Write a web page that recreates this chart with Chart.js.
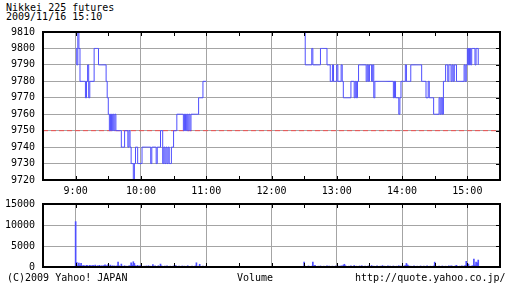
<!DOCTYPE html>
<html lang="en">
<head>
  <meta charset="UTF-8">
  <title>Nikkei 225 futures</title>
  <script src="https://cdn.jsdelivr.net/npm/chart.js"></script>
  <style>
    body {
      margin: 0;
      background: #fff;
      font-family: 'DejaVu Sans Mono', monospace;
      font-size: 10px;
      color: #000;
    }
    #wrap {
      position: relative;
      width: 512px;
      height: 288px;
      overflow: hidden;
    }
    canvas {
      position: absolute;
      left: 0;
    }
    .txt {
      position: absolute;
      white-space: pre;
      line-height: 10px;
    }
  </style>
</head>
<body>
<div id="wrap">
  <div class="txt" style="left:6px; top:3px;">Nikkei 225 futures</div>
  <div class="txt" style="left:6px; top:12px;">2009/11/16 15:10</div>
  <canvas id="priceChart" width="512" height="200" style="top:0;"></canvas>
  <canvas id="volumeChart" width="512" height="98" style="top:190px;"></canvas>
  <div class="txt" style="left:7px; top:273px;">(C)2009 Yahoo! JAPAN</div>
  <div class="txt" style="left:237px; top:273px;">Volume</div>
  <div class="txt" style="left:355px; top:273px;">http://quote.yahoo.co.jp/</div>
</div>

<script>
  // minutes are counted from 9:00; morning session 9:00-11:00, afternoon 12:30-15:10
  const morningPrice = [
    9800, 9790, 9810, 9800, 9780, 9780, 9780, 9780, 9780, 9770,
    9780, 9790, 9770, 9780, 9780, 9780, 9780, 9800, 9800, 9800,
    9800, 9790, 9790, 9790, 9790, 9790, 9790, 9790, 9780, 9770,
    9760, 9750, 9760, 9750, 9760, 9750, 9760, 9750, 9750, 9750,
    9750, 9750, 9740, 9740, 9740, 9750, 9750, 9750, 9740, 9750,
    9740, 9730, 9730, 9720, 9730, 9740, 9740, 9730, 9730, 9730,
    9730, 9740, 9740, 9740, 9740, 9740, 9740, 9740, 9740, 9730,
    9740, 9740, 9740, 9740, 9730, 9740, 9740, 9740, 9750, 9750,
    9730, 9740, 9730, 9740, 9730, 9740, 9730, 9730, 9740, 9740,
    9750, 9750, 9750, 9760, 9760, 9760, 9760, 9760, 9760, 9750,
    9760, 9750, 9760, 9750, 9760, 9750, 9760, 9760, 9760, 9760,
    9760, 9760, 9760, 9770, 9770, 9770, 9770, 9780, 9780, 9780,
    9780
  ];
  const afternoonPrice = [
    9810, 9790, 9790, 9790, 9790, 9790, 9790, 9800, 9790, 9790,
    9790, 9790, 9790, 9790, 9790, 9800, 9800, 9800, 9800, 9800,
    9800, 9790, 9790, 9790, 9780, 9780, 9790, 9780, 9780, 9780,
    9790, 9780, 9780, 9780, 9790, 9780, 9770, 9770, 9770, 9770,
    9770, 9770, 9770, 9780, 9780, 9780, 9770, 9780, 9770, 9780,
    9790, 9790, 9790, 9790, 9790, 9790, 9790, 9780, 9790, 9780,
    9790, 9790, 9780, 9790, 9770, 9780, 9780, 9780, 9780, 9780,
    9780, 9780, 9780, 9780, 9780, 9780, 9780, 9780, 9780, 9780,
    9780, 9780, 9770, 9780, 9770, 9770, 9770, 9760, 9770, 9780,
    9780, 9780, 9780, 9790, 9780, 9780, 9780, 9780, 9790, 9790,
    9790, 9790, 9790, 9790, 9790, 9790, 9790, 9790, 9780, 9780,
    9780, 9780, 9770, 9770, 9780, 9770, 9770, 9770, 9770, 9760,
    9760, 9760, 9760, 9760, 9770, 9760, 9770, 9760, 9780, 9780,
    9790, 9790, 9780, 9790, 9790, 9780, 9790, 9780, 9790, 9790,
    9780, 9780, 9780, 9780, 9780, 9780, 9780, 9790, 9780, 9790,
    9800, 9790, 9800, 9790, 9800, 9800, 9800, 9790, 9800, 9800,
    9790
  ];
  const morningVolume = [
    10800, 1100, 300, 950, 400, 850, 250, 350, 300, 200,
    400, 350, 150, 400, 300, 250, 400, 200, 450, 150,
    300, 250, 400, 150, 300, 200, 350, 500, 250, 300,
    650, 200, 450, 150, 300, 200, 250, 100, 300, 1200,
    250, 150, 700, 200, 100, 300, 150, 200, 100, 250,
    300, 1000, 450, 1250, 850, 300, 200, 400, 150, 250,
    350, 100, 150, 200, 100, 250, 150, 300, 100, 200,
    150, 600, 100, 250, 150, 100, 300, 150, 700, 250,
    100, 150, 200, 100, 250, 150, 100, 200, 150, 100,
    250, 100, 350, 150, 100, 200, 100, 150, 250, 100,
    200, 100, 150, 300, 100, 150, 100, 200, 150, 100,
    250, 1000, 150, 200, 650, 100, 150, 200, 100, 150,
    250
  ];
  const afternoonVolume = [
    1200, 200, 150, 100, 250, 150, 100, 200, 1150, 300,
    400, 150, 100, 200, 150, 250, 100, 150, 200, 100,
    150, 250, 100, 200, 150, 100, 200, 150, 100, 250,
    150, 100, 200, 150, 300, 200, 450, 650, 300, 150,
    100, 200, 150, 250, 100, 150, 350, 100, 200, 150,
    100, 250, 150, 300, 100, 150, 200, 100, 150, 250,
    100, 150, 350, 100, 200, 150, 100, 250, 150, 100,
    200, 150, 350, 100, 200, 150, 100, 250, 150, 200,
    100, 150, 250, 100, 150, 200, 100, 300, 150, 200,
    100, 150, 250, 350, 850, 500, 300, 150, 200, 100,
    150, 250, 100, 150, 200, 100, 150, 250, 100, 150,
    200, 100, 150, 250, 100, 150, 200, 100, 150, 250,
    1150, 200, 150, 100, 200, 150, 100, 250, 150, 100,
    200, 150, 100, 250, 150, 300, 200, 150, 100, 250,
    400, 150, 100, 200, 150, 250, 100, 200, 350, 1350,
    300, 700, 200, 150, 250, 300, 1900, 450, 1200, 1000,
    1650
  ];
  const afternoonStart = 210;   // 12:30 in minutes after 9:00
  const prevClose = 9750;
  const hourTicks = [0, 60, 120, 180, 240, 300, 360];
  const priceTicks = [9720, 9730, 9740, 9750, 9760, 9770, 9780, 9790, 9800, 9810];
  const volumeTicks = [0, 5000, 10000, 15000];

  const BLUE = '#4f4fff';
  const GRID = '#a4a4a4';
  const FONT = { family: 'DejaVu Sans Mono', size: 10 };

  const morningPts = morningPrice.map((v, i) => ({ x: i, y: v }));
  const afternoonPts = afternoonPrice.map((v, i) => ({ x: afternoonStart + i, y: v }));
  const volumePts = morningVolume.map((v, i) => ({ x: i, y: v }))
    .concat(afternoonVolume.map((v, i) => ({ x: afternoonStart + i, y: v })));

  // black box round the plot plus the small inner tick marks
  const frame = {
    id: 'frame',
    afterDraw(chart) {
      const { ctx, chartArea: a, scales } = chart;
      ctx.save();
      ctx.strokeStyle = '#000';
      ctx.lineWidth = 1;
      ctx.beginPath();
      for (let v = 0; v <= 360; v += 30) {
        const px = Math.round(scales.x.getPixelForValue(v)) + 0.5;
        ctx.moveTo(px, a.top); ctx.lineTo(px, a.top + 4);
        ctx.moveTo(px, a.bottom); ctx.lineTo(px, a.bottom - 4);
      }
      scales.y.ticks.forEach(t => {
        const py = Math.round(scales.y.getPixelForValue(t.value)) + 0.5;
        ctx.moveTo(a.right, py); ctx.lineTo(a.right - 4, py);
      });
      ctx.stroke();
      ctx.lineWidth = 2;
      ctx.strokeRect(a.left, a.top, a.right - a.left, a.bottom - a.top);
      ctx.restore();
    }
  };

  const xAxis = (showLabels, height) => ({
    type: 'linear',
    min: -30,
    max: 390,
    offset: false,
    afterBuildTicks: s => { s.ticks = hourTicks.map(v => ({ value: v })); },
    afterFit: s => { s.height = height; },
    ticks: {
      display: showLabels,
      autoSkip: false,
      maxRotation: 0,
      padding: 5,
      color: '#000',
      font: FONT,
      callback: v => (9 + v / 60) + ':00'
    },
    grid: { color: GRID, drawTicks: false, offset: false },
    border: { display: false }
  });

  const yAxis = (min, max, list) => ({
    min: min,
    max: max,
    afterBuildTicks: s => { s.ticks = list.map(v => ({ value: v })); },
    afterFit: s => { s.width = 43; },
    ticks: { autoSkip: false, padding: 8, color: '#000', font: FONT, callback: v => String(v) },
    grid: { color: GRID, drawTicks: false },
    border: { display: false }
  });

  new Chart(document.getElementById('priceChart'), {
    type: 'line',
    data: {
      datasets: [
        { data: morningPts, stepped: true, borderColor: BLUE, borderWidth: 1, pointRadius: 0 },
        { data: afternoonPts, stepped: true, borderColor: BLUE, borderWidth: 1, pointRadius: 0 },
        { data: [{ x: -30, y: prevClose }, { x: 390, y: prevClose }], borderColor: '#f05050',
          borderWidth: 1, borderDash: [5, 3], pointRadius: 0 }
      ]
    },
    options: {
      responsive: false,
      animation: false,
      layout: { padding: { top: 32, right: 12, left: 0, bottom: 0 } },
      plugins: { legend: { display: false }, tooltip: { enabled: false } },
      scales: {
        x: xAxis(true, 20),
        y: yAxis(9720, 9810, priceTicks)
      }
    },
    plugins: [frame]
  });

  new Chart(document.getElementById('volumeChart'), {
    type: 'bar',
    data: {
      datasets: [
        { data: volumePts, backgroundColor: BLUE, barThickness: 1 }
      ]
    },
    options: {
      responsive: false,
      animation: false,
      layout: { padding: { top: 14, right: 12, left: 0, bottom: 21 } },
      plugins: { legend: { display: false }, tooltip: { enabled: false } },
      scales: {
        x: xAxis(false, 0),
        y: yAxis(0, 15000, volumeTicks)
      }
    },
    plugins: [frame]
  });
</script>
</body>
</html>
